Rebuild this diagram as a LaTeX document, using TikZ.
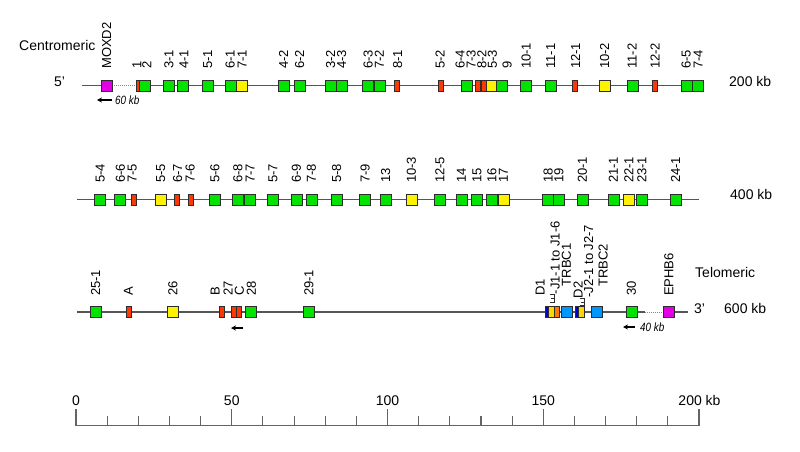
\documentclass[tikz,border=0pt]{standalone}
\usepackage{fontspec}
\setmainfont{Liberation Sans}
\usetikzlibrary{arrows.meta}
\definecolor{linecol}{RGB}{85,85,85}
\definecolor{boxline}{RGB}{45,45,45}
\definecolor{gcol}{RGB}{0,228,0}
\definecolor{ycol}{RGB}{255,242,0}
\definecolor{rcol}{RGB}{255,55,0}
\definecolor{mcol}{RGB}{228,0,228}
\definecolor{bcol}{RGB}{0,150,255}
\definecolor{dcol}{RGB}{0,0,215}
\definecolor{ocol}{RGB}{255,120,0}
\definecolor{jcol}{RGB}{255,215,0}
\definecolor{scalecol}{RGB}{100,100,100}
\begin{document}
\begin{tikzpicture}[x=1pt,y=-1pt,
  bx/.style={draw=boxline,line width=0.7pt,inner sep=0pt,minimum width=11pt,minimum height=11pt},
  gb/.style={bx,fill=gcol},
  yb/.style={bx,fill=ycol},
  mb/.style={bx,fill=mcol},
  bb/.style={bx,fill=bcol},
  rb/.style={bx,fill=rcol,minimum width=5pt},
  thinbar/.style={bx,fill=dcol,minimum width=2.4pt},
  jy/.style={bx,fill=jcol,minimum width=6pt},
  jo/.style={bx,fill=ocol,minimum width=5pt},
  lab/.style={rotate=90,anchor=west,inner sep=0pt,text height=9.3pt,text depth=0pt,font=\fontsize{13}{13}\selectfont},
  side/.style={anchor=base west,inner sep=0pt,font=\fontsize{14}{14}\selectfont},
  rowline/.style={draw=linecol,line width=1.2pt},
  dotline/.style={draw=linecol!70,line width=1pt,dash pattern=on 1pt off 1pt},
  small/.style={anchor=west,inner sep=0pt,font=\fontsize{12}{12}\itshape},
  arr/.style={-{Stealth[length=5pt,width=5pt]},line width=1.3pt,black},
  brk/.style={draw=boxline,line width=0.8pt},
  tick/.style={draw=scalecol,line width=1.1pt},
  sclab/.style={anchor=base,inner sep=0pt,font=\fontsize{14}{14}\selectfont}
]
\useasboundingbox (0,0) rectangle (800,452);

% ---------------- side texts
\node[side] (centro) at (19,51) {Centromeric};
\node[side] (five) at (54,86) {5'};
\node[side] (kb200) at (729,86) {200 kb};
\node[side] (kb400) at (730,199) {400 kb};
\node[side] (telo) at (695,277) {Telomeric};
\node[side] (three) at (694,313) {3'};
\node[side] (kb600) at (724,313) {600 kb};

% ---------------- row 1
\coordinate (r1a) at (82,85.5);
\coordinate (r1b) at (112,85.5);
\coordinate (r1c) at (137,85.5);
\coordinate (r1d) at (704,85.5);
\draw[rowline] (r1a) -- (r1b);
\draw[dotline] (r1b) -- (r1c);
\draw[rowline] (r1c) -- (r1d);

\node[mb] (moxd) at (106.5,85.5) {};
\node[rb] (g1) at (139,85.5) {};
\node[gb] (g2) at (145,85.5) {};
\node[gb] (g31) at (169,85.5) {};
\node[gb] (g41) at (183,85.5) {};
\node[gb] (g51) at (208,85.5) {};
\node[gb] (g61) at (230.5,85.5) {};
\node[yb] (g71) at (242,85.5) {};
\node[gb] (g42) at (283.5,85.5) {};
\node[gb] (g62) at (299.5,85.5) {};
\node[gb] (g32) at (330.5,85.5) {};
\node[gb] (g43) at (341.5,85.5) {};
\node[gb] (g63) at (368,85.5) {};
\node[gb] (g72) at (379.5,85.5) {};
\node[rb] (g81) at (396.5,85.5) {};
\node[rb] (g52) at (440.5,85.5) {};
\node[gb] (g64) at (466.5,85.5) {};
\node[rb] (g73) at (477.5,85.5) {};
\node[rb] (g82) at (483.5,85.5) {};
\node[yb] (g53) at (491.5,85.5) {};
\node[gb] (g9) at (501.5,85.5) {};
\node[gb] (g101) at (526,85.5) {};
\node[gb] (g111) at (550.5,85.5) {};
\node[rb] (g121) at (574.5,85.5) {};
\node[yb] (g102) at (604.5,85.5) {};
\node[gb] (g112) at (632.5,85.5) {};
\node[rb] (g122) at (654.5,85.5) {};
\node[gb] (g65) at (686.5,85.5) {};
\node[gb] (g74) at (698,85.5) {};

\node[lab] (lmoxd) at (106.5,69) {MOXD2};
\node[lab] (l1) at (136.7,69) {1};
\node[lab] (l2) at (146.7,69) {2};
\node[lab] (l31) at (168.7,69) {3-1};
\node[lab] (l41) at (183.7,69) {4-1};
\node[lab] (l51) at (207.5,69) {5-1};
\node[lab] (l61) at (230,69) {6-1};
\node[lab] (l71) at (242,69) {7-1};
\node[lab] (l42) at (283.5,69) {4-2};
\node[lab] (l62) at (299.5,69) {6-2};
\node[lab] (l32) at (330.5,69) {3-2};
\node[lab] (l43) at (341.5,69) {4-3};
\node[lab] (l63) at (368,69) {6-3};
\node[lab] (l72) at (379.3,69) {7-2};
\node[lab] (l81) at (397.5,69) {8-1};
\node[lab] (l52) at (440,69) {5-2};
\node[lab] (l64) at (460,69) {6-4};
\node[lab] (l73) at (471,69) {7-3};
\node[lab] (l82) at (481.7,69) {8-2};
\node[lab] (l53) at (492.3,69) {5-3};
\node[lab] (l9) at (507,69) {9};
\node[lab] (l101) at (526,69) {10-1};
\node[lab] (l111) at (550.5,69) {11-1};
\node[lab] (l121) at (575.5,69) {12-1};
\node[lab] (l102) at (604.5,69) {10-2};
\node[lab] (l112) at (632,69) {11-2};
\node[lab] (l122) at (655,69) {12-2};
\node[lab] (l65) at (686,69) {6-5};
\node[lab] (l74) at (698,69) {7-4};

\coordinate (a1s) at (112,100);
\coordinate (a1e) at (97,100);
\draw[arr] (a1s) -- (a1e);
\node[small] (kb60) at (115,100) {\scalebox{0.82}[1]{60 kb}};

% ---------------- row 2
\coordinate (r2a) at (77,199.5);
\coordinate (r2b) at (699,199.5);
\draw[rowline] (r2a) -- (r2b);

\node[gb] (h54) at (100,199.5) {};
\node[gb] (h66) at (120,199.5) {};
\node[rb] (h75) at (133.5,199.5) {};
\node[yb] (h55) at (161,199.5) {};
\node[rb] (h67) at (176.5,199.5) {};
\node[rb] (h76) at (190.5,199.5) {};
\node[gb] (h56) at (214.5,199.5) {};
\node[gb] (h68) at (237.5,199.5) {};
\node[gb] (h77) at (250,199.5) {};
\node[gb] (h57) at (272.5,199.5) {};
\node[gb] (h69) at (296.5,199.5) {};
\node[gb] (h78) at (311.5,199.5) {};
\node[gb] (h58) at (336.5,199.5) {};
\node[gb] (h79) at (365,199.5) {};
\node[gb] (h13) at (385.5,199.5) {};
\node[yb] (h103) at (411.5,199.5) {};
\node[gb] (h125) at (439.5,199.5) {};
\node[gb] (h14) at (461.5,199.5) {};
\node[gb] (h15) at (476.5,199.5) {};
\node[gb] (h16) at (491.5,199.5) {};
\node[yb] (h17) at (503.5,199.5) {};
\node[gb] (h18) at (548,199.5) {};
\node[gb] (h19) at (558.5,199.5) {};
\node[gb] (h201) at (582.5,199.5) {};
\node[gb] (h211) at (613.5,199.5) {};
\node[yb] (h221) at (628.5,199.5) {};
\node[gb] (h231) at (641.5,199.5) {};
\node[gb] (h241) at (675.5,199.5) {};

\node[lab] (m54) at (100,183) {5-4};
\node[lab] (m66) at (120.3,183) {6-6};
\node[lab] (m75) at (132,183) {7-5};
\node[lab] (m55) at (160.5,183) {5-5};
\node[lab] (m67) at (177.5,183) {6-7};
\node[lab] (m76) at (190,183) {7-6};
\node[lab] (m56) at (214.7,183) {5-6};
\node[lab] (m68) at (237.8,183) {6-8};
\node[lab] (m77) at (250,183) {7-7};
\node[lab] (m57) at (272.8,183) {5-7};
\node[lab] (m69) at (296.2,183) {6-9};
\node[lab] (m78) at (311.2,183) {7-8};
\node[lab] (m58) at (336.5,183) {5-8};
\node[lab] (m79) at (365,183) {7-9};
\node[lab] (m13) at (385.5,183) {13};
\node[lab] (m103) at (411.3,183) {10-3};
\node[lab] (m125) at (439.7,183) {12-5};
\node[lab] (m14) at (461.3,183) {14};
\node[lab] (m15) at (476.7,183) {15};
\node[lab] (m16) at (491.7,183) {16};
\node[lab] (m17) at (503.3,183) {17};
\node[lab] (m18) at (548,183) {18};
\node[lab] (m19) at (558.8,183) {19};
\node[lab] (m201) at (582.2,183) {20-1};
\node[lab] (m211) at (613.3,183) {21-1};
\node[lab] (m221) at (628.7,183) {22-1};
\node[lab] (m231) at (641.7,183) {23-1};
\node[lab] (m241) at (675.5,183) {24-1};

% ---------------- row 3
\coordinate (r3a) at (77,312);
\coordinate (r3b) at (645,312);
\coordinate (r3c) at (663,312);
\coordinate (r3d) at (674,312);
\coordinate (r3e) at (688,312);
\draw[rowline] (r3a) -- (r3b);
\draw[dotline] (r3b) -- (r3c);
\draw[rowline] (r3d) -- (r3e);

\node[gb] (k251) at (95.5,312) {};
\node[rb] (kA) at (128.5,312) {};
\node[yb] (k26) at (172.5,312) {};
\node[rb] (kB) at (221.5,312) {};
\node[rb] (k27) at (234,312) {};
\node[rb] (kC) at (239,312) {};
\node[gb] (k28) at (250.5,312) {};
\node[gb] (k291) at (308.5,312) {};
\node[jy] (kJ1) at (551,312) {};
\node[jo] (kJ1o) at (556.5,312) {};
\node[thinbar] (kD1) at (546.8,312) {};
\node[bb] (kC1) at (567,312) {};
\node[jy,minimum width=7pt] (kJ2) at (581.3,312) {};
\node[thinbar] (kD2) at (576.7,312) {};
\node[bb] (kC2) at (596.5,312) {};
\node[gb] (k30) at (631.5,312) {};
\node[mb] (ephb) at (668.5,312) {};

\node[lab] (n251) at (95.5,296) {25-1};
\node[lab] (nA) at (128.3,296) {A};
\node[lab] (n26) at (172.8,296) {26};
\node[lab] (nB) at (215,296) {B};
\node[lab] (n27) at (228,296) {27};
\node[lab] (nC) at (239.3,296) {C};
\node[lab] (n28) at (251.2,296) {28};
\node[lab] (n291) at (308.8,296) {29-1};
\node[lab] (nD1) at (540,296) {D1};
\node[lab] (nJ1) at (555,294.5) {-J1-1 to J1-6};
\node[lab] (nC1) at (566.2,286.5) {TRBC1};
\node[lab] (nD2) at (578,298.5) {D2};
\node[lab] (nJ2) at (588.5,298) {-J2-1 to J2-7};
\node[lab] (nC2) at (603,287) {TRBC2};
\node[lab] (n30) at (631.2,296) {30};
\node[lab] (nephb) at (668.8,296) {EPHB6};

% small brackets at the start of the J labels
\draw[brk] (549.5,294.8) -- (554,294.8) -- (554,302) -- (549.5,302);
\draw[brk] (550.5,298.4) -- (554,298.4);
\draw[brk] (579.5,298.5) -- (584,298.5) -- (584,305.3) -- (579.5,305.3);
\draw[brk] (580.5,301.9) -- (584,301.9);

\coordinate (a2s) at (243,328);
\coordinate (a2e) at (231,328);
\draw[arr] (a2s) -- (a2e);
\coordinate (a3s) at (635,327);
\coordinate (a3e) at (623,327);
\draw[arr] (a3s) -- (a3e);
\node[small] (kb40) at (640,327) {\scalebox{0.82}[1]{40 kb}};

% ---------------- scale bar
\coordinate (s0) at (76,425.7);
\coordinate (s1) at (699,425.7);
\draw[tick] (s0) -- (s1);
\foreach \i in {0,...,20} {
  \pgfmathsetmacro{\xx}{76+\i*31.15}
  \pgfmathsetmacro{\ytop}{ifthenelse(mod(\i,5)==0,409,415.7)}
  \draw[tick] (\xx,425.7) -- (\xx,\ytop);
}
\node[sclab] (t0) at (76,405.7) {0};
\node[sclab] (t50) at (231.75,405.7) {50};
\node[sclab] (t100) at (387.5,405.7) {100};
\node[sclab] (t150) at (543.25,405.7) {150};
\node[sclab] (t200) at (699.5,405.7) {200 kb};
\end{tikzpicture}
\end{document}
